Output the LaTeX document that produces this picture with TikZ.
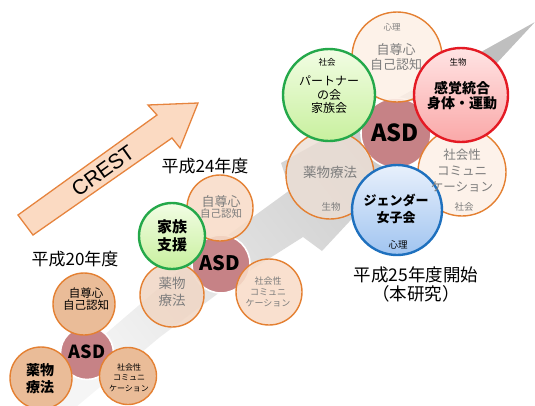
\documentclass[tikz,border=0pt]{standalone}
\usepackage{fontspec}
\setmainfont{Noto Sans CJK JP}
\newfontfamily\latin{Liberation Sans}
\newcommand\fsz[2]{\fontsize{#1}{#2}\selectfont}
\definecolor{ostroke}{RGB}{228,128,50}
\definecolor{tanfill}{RGB}{234,188,152}
\definecolor{asdfill}{RGB}{198,130,134}
\definecolor{peachA}{RGB}{248,220,200}
\definecolor{peachB}{RGB}{253,240,230}
\definecolor{drugA}{RGB}{240,214,196}
\definecolor{drugB}{RGB}{236,222,212}
\definecolor{gstroke}{RGB}{36,168,74}
\definecolor{gtop}{RGB}{242,253,228}
\definecolor{gbot}{RGB}{200,240,158}
\definecolor{rstroke}{RGB}{228,26,36}
\definecolor{rtop}{RGB}{255,228,228}
\definecolor{rbot}{RGB}{250,168,168}
\definecolor{bstroke}{RGB}{30,112,190}
\definecolor{btop}{RGB}{232,240,252}
\definecolor{bbot}{RGB}{160,196,240}
\definecolor{txtgrey}{RGB}{125,125,125}
\definecolor{crestfill}{RGB}{251,218,194}
\definecolor{creststroke}{RGB}{230,132,62}
\tikzset{
  disc/.style={circle, inner sep=0pt, minimum size=#1},
  orangec/.style={draw=ostroke, line width=1.4pt},
  asdc/.style={draw=white, line width=1.6pt, fill=asdfill},
  boldc/.style={line width=2.4pt},
  txt/.style={inner sep=0pt, align=center},
  greytxt/.style={txt, text=txtgrey},
}
\begin{document}
\begin{tikzpicture}[x=1pt, y=-1pt]
\useasboundingbox (0,0) rectangle (535,405);
% background grey arrow
\begin{scope}
  \clip (0,0) rectangle (535,405);
  \shade[top color=gray!50, bottom color=gray!8, shading angle=-52]
    (15,412) -- (110,330) -- (180,270) -- (290,190) -- (281,163)
    -- (535,22) -- (322,251) -- (303,237) -- (240,277) -- (160,337) -- (70,412) -- cycle;
\end{scope}
% CREST arrow
\draw[fill=crestfill, draw=creststroke, line width=1.3pt, line join=miter]
  (18,215) -- (157,115) -- (148,105) -- (198,103) -- (180,148) -- (172,138) -- (33,235) -- cycle;
\node[txt, rotate=35.5, font=\latin\fsz{21}{21}] (crest) at (103,171) {CREST};
% titles
\node[txt, font=\fsz{17}{17}] (title20) at (75,259) {平成20年度};
\node[txt, font=\fsz{17}{17}] (title24) at (205,166) {平成24年度};
\node[txt, font=\fsz{17.5}{17.5}] (title25) at (416,275) {平成25年度開始};
\node[txt, font=\fsz{17.5}{17.5}] (title25b) at (416,294) {（本研究）};
% ---------- group 20
\node[disc=53pt, asdc] (asd20) at (87,353) {};
\node[disc=62pt, orangec, fill=tanfill] (self20) at (84,304) {};
\node[disc=62pt, orangec, fill=tanfill] (drug20) at (41,378) {};
\node[disc=57pt, orangec, fill=tanfill] (soc20) at (128,376) {};
\node[txt, font=\fsz{11.5}{12}] (self20t) at (86,299) {自尊心\\自己認知};
\node[txt, font=\bfseries\fsz{14}{17}] (drug20t) at (40,378.5) {薬物\\療法};
\node[txt, font=\fsz{8}{10.5}] (soc20t) at (129,377.5) {社会性\\コミュニ\\ケーション};
\node[txt, font=\bfseries\fsz{18}{18}] (asd20t) at (87,352) {ASD};
% ---------- group 24
\node[disc=58pt, asdc] (asd24) at (221,264) {};
\node[disc=66pt, orangec, fill=peachA, fill opacity=0.88] (self24) at (220,208) {};
\node[disc=66pt, orangec, fill=peachA, fill opacity=0.88] (soc24) at (269,292) {};
\node[disc=64pt, orangec, fill=drugA, fill opacity=0.85] (drug24) at (172,295) {};
\node[disc=66pt, draw=gstroke, boldc, top color=gtop, bottom color=gbot] (fam24) at (172,236) {};
\node[greytxt, font=\fsz{13}{13}] (self24t) at (221,202) {自尊心};
\node[greytxt, font=\fsz{10.5}{10.5}] (self24u) at (221,213.5) {自己認知};
\node[txt, font=\bfseries\fsz{15}{18}] (fam24t) at (172,236) {家族\\支援};
\node[greytxt, font=\fsz{13.5}{17}] (drug24t) at (172,292) {薬物\\療法};
\node[greytxt, font=\fsz{9}{11}] (soc24t) at (268,291.5) {社会性\\コミュニ\\ケーション};
\node[txt, font=\bfseries\fsz{20}{20}] (asd24t) at (220,263) {ASD};
% ---------- group 25
\node[disc=70pt, asdc] (asd25) at (396,133) {};
\node[disc=90pt, orangec, fill=peachB, fill opacity=0.88] (self25) at (397,57) {};
\node[disc=88pt, orangec, fill=drugB, fill opacity=0.8] (drug25) at (330,175) {};
\node[disc=88pt, orangec, fill=peachB, fill opacity=0.85] (soc25) at (462,172) {};
\node[disc=92pt, draw=gstroke, boldc, top color=gtop, bottom color=gbot] (part25) at (329,95) {};
\node[disc=94pt, draw=rstroke, boldc, top color=rtop, bottom color=rbot] (sens25) at (461,95) {};
\node[disc=90pt, draw=bstroke, boldc, top color=btop, bottom color=bbot] (gend25) at (397,210) {};
% texts 25
\node[greytxt, font=\fsz{8.5}{8.5}] (psy25a) at (392,27) {心理};
\node[greytxt, font=\fsz{13}{15}] (self25t) at (396,57.5) {自尊心\\自己認知};
\node[txt, font=\fsz{8.5}{8.5}] (soc25a) at (327,62) {社会};
\node[txt, font=\fsz{12}{13.5}] (part25t) at (329,95) {パートナー\\の会\\家族会};
\node[txt, font=\fsz{8.5}{8.5}] (bio25a) at (458,62) {生物};
\node[txt, font=\bfseries\fsz{14}{15.5}] (sens25t) at (462,95.5) {感覚統合\\身体・運動};
\node[txt, font=\bfseries\fsz{23.5}{23.5}] (asd25t) at (395,133) {ASD};
\node[greytxt, font=\fsz{13.5}{13.5}] (drug25t) at (330,172) {薬物療法};
\node[greytxt, font=\fsz{9.5}{9.5}] (bio25b) at (331,207) {生物};
\node[greytxt, font=\fsz{12.5}{16}] (soc25t) at (462,171) {社会性\\コミュニ\\ケーション};
\node[greytxt, font=\fsz{9.5}{9.5}] (soc25b) at (464,207) {社会};
\node[txt, font=\bfseries\fsz{13}{17}] (gend25t) at (396,208.5) {ジェンダー\\女子会};
\node[txt, font=\fsz{9.5}{9.5}] (psy25b) at (398,245) {心理};
\end{tikzpicture}
\end{document}
